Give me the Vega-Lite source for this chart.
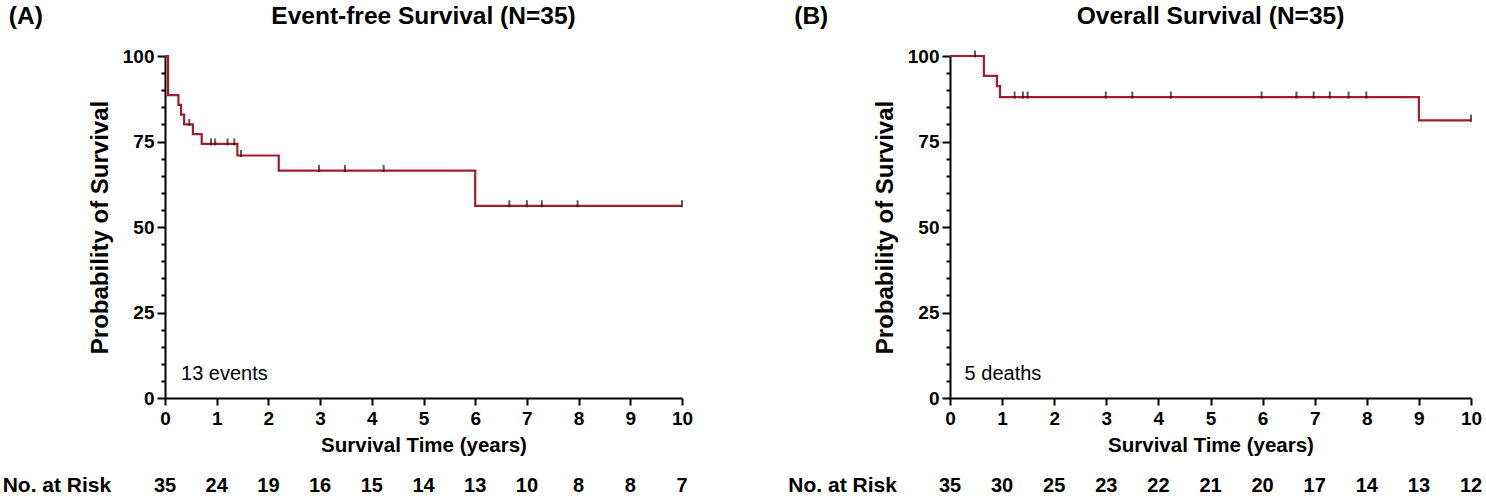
{
  "$schema": "https://vega.github.io/schema/vega-lite/v6.json",
  "padding": {"left": 2, "top": 4, "right": 0, "bottom": 0},
  "background": "white",
  "config": {
    "view": {"stroke": null},
    "font": "Liberation Sans, Arial, sans-serif",
    "axis": {"grid": false, "domainColor": "black", "domainWidth": 2, "tickColor": "black", "tickWidth": 2, "labelColor": "black", "titleColor": "black", "labelFontWeight": "bold", "titleFontWeight": "bold", "labelFlush": false, "labelOverlap": false},
    "text": {"color": "black"}
  },
  "datasets": {
    "efs": [
      {"t": 0, "s": 100}, {"t": 0.06, "s": 88.57}, {"t": 0.26, "s": 85.71}, {"t": 0.31, "s": 82.86},
      {"t": 0.37, "s": 80.0}, {"t": 0.54, "s": 77.14}, {"t": 0.71, "s": 74.29}, {"t": 1.40, "s": 70.9},
      {"t": 2.2, "s": 66.5}, {"t": 6.0, "s": 56.2}, {"t": 10, "s": 56.2}
    ],
    "efs_cens": [
      {"t": 0.47, "s": 80.0}, {"t": 0.89, "s": 74.29}, {"t": 0.97, "s": 74.29}, {"t": 1.21, "s": 74.29},
      {"t": 1.34, "s": 74.29}, {"t": 1.47, "s": 70.9}, {"t": 2.98, "s": 66.5}, {"t": 3.48, "s": 66.5},
      {"t": 4.23, "s": 66.5}, {"t": 6.66, "s": 56.2}, {"t": 7.0, "s": 56.2}, {"t": 7.29, "s": 56.2},
      {"t": 7.98, "s": 56.2}, {"t": 10, "s": 56.2}
    ],
    "os": [
      {"t": 0, "s": 100}, {"t": 0.65, "s": 94.2}, {"t": 0.9, "s": 91.2}, {"t": 0.96, "s": 88.0},
      {"t": 9.0, "s": 81.2}, {"t": 10, "s": 81.2}
    ],
    "os_cens": [
      {"t": 0.48, "s": 100}, {"t": 1.24, "s": 88}, {"t": 1.40, "s": 88}, {"t": 1.49, "s": 88},
      {"t": 2.99, "s": 88}, {"t": 3.5, "s": 88}, {"t": 4.24, "s": 88}, {"t": 5.98, "s": 88},
      {"t": 6.65, "s": 88}, {"t": 6.98, "s": 88}, {"t": 7.29, "s": 88}, {"t": 7.65, "s": 88},
      {"t": 7.99, "s": 88}, {"t": 10, "s": 81.2}
    ],
    "risk_a": [
      {"t": 0, "n": 35}, {"t": 1, "n": 24}, {"t": 2, "n": 19}, {"t": 3, "n": 16}, {"t": 4, "n": 15},
      {"t": 5, "n": 14}, {"t": 6, "n": 13}, {"t": 7, "n": 10}, {"t": 8, "n": 8}, {"t": 9, "n": 8}, {"t": 10, "n": 7}
    ],
    "risk_b": [
      {"t": 0, "n": 35}, {"t": 1, "n": 30}, {"t": 2, "n": 25}, {"t": 3, "n": 23}, {"t": 4, "n": 22},
      {"t": 5, "n": 21}, {"t": 6, "n": 20}, {"t": 7, "n": 17}, {"t": 8, "n": 14}, {"t": 9, "n": 13}, {"t": 10, "n": 12}
    ],
    "lab_a": [{"panel": "(A)", "title": "Event-free Survival (N=35)", "risk": "No. at Risk", "note": "13 events"}],
    "lab_b": [{"panel": "(B)", "title": "Overall Survival (N=35)", "risk": "No. at Risk", "note": "5 deaths"}]
  },
  "spacing": 95,
  "hconcat": [
    {
      "width": 517,
      "height": 342,
      "layer": [
        {
          "data": {"name": "efs"},
          "mark": {"type": "line", "interpolate": "step-after", "color": "#a31d2c", "strokeWidth": 2.2},
          "encoding": {
            "x": {"field": "t", "type": "quantitative", "scale": {"domain": [0, 10], "nice": false, "zero": false},
              "axis": {"values": [0, 1, 2, 3, 4, 5, 6, 7, 8, 9, 10], "format": "d", "labelOverlap": false, "tickSize": 7, "labelPadding": 4, "labelFontSize": 19, "titleFontSize": 20.5, "titlePadding": 7, "title": "Survival Time (years)"}},
            "y": {"field": "s", "type": "quantitative", "scale": {"domain": [0, 100], "nice": false},
              "axis": {"values": [0, 5, 10, 15, 20, 25, 30, 35, 40, 45, 50, 55, 60, 65, 70, 75, 80, 85, 90, 95, 100],
                "tickCount": 30,
                "format": "d",
                "labelOverlap": false,
                "labelExpr": "datum.value % 25 === 0 ? datum.label : ''",
                "tickSize": {"condition": {"test": "datum.value % 25 === 0", "value": 8}, "value": 4},
                "labelPadding": 3, "labelFontSize": 19, "titleFontSize": 24, "titlePadding": 10, "title": "Probability of Survival"}}
          }
        },
        {
          "data": {"name": "efs_cens"},
          "mark": {"type": "tick", "orient": "vertical", "size": 7, "thickness": 2, "color": "#2a0a0a", "yOffset": -2},
          "encoding": {"x": {"field": "t", "type": "quantitative"}, "y": {"field": "s", "type": "quantitative"}}
        },
        {
          "data": {"name": "risk_a"},
          "mark": {"type": "text", "fontSize": 20, "fontWeight": "bold", "baseline": "middle", "align": "center"},
          "encoding": {"x": {"field": "t", "type": "quantitative"}, "y": {"datum": -25.7}, "text": {"field": "n"}}
        },
        {
          "data": {"name": "lab_a"},
          "mark": {"type": "text", "fontSize": 21, "fontWeight": "bold", "baseline": "middle", "align": "right"},
          "encoding": {"x": {"datum": -1.04}, "y": {"datum": -25.7}, "text": {"field": "risk"}}
        },
        {
          "data": {"name": "lab_a"},
          "mark": {"type": "text", "fontSize": 24.5, "fontWeight": "bold", "baseline": "middle", "align": "left"},
          "encoding": {"x": {"datum": -3.02}, "y": {"datum": 111.4}, "text": {"field": "panel"}}
        },
        {
          "data": {"name": "lab_a"},
          "mark": {"type": "text", "fontSize": 24.5, "fontWeight": "bold", "baseline": "middle", "align": "center"},
          "encoding": {"x": {"datum": 5}, "y": {"datum": 111.4}, "text": {"field": "title"}}
        },
        {
          "data": {"name": "lab_a"},
          "mark": {"type": "text", "fontSize": 20, "baseline": "middle", "align": "left"},
          "encoding": {"x": {"datum": 0.31}, "y": {"datum": 7}, "text": {"field": "note"}}
        }
      ]
    },
    {
      "width": 521,
      "height": 342,
      "layer": [
        {
          "data": {"name": "os"},
          "mark": {"type": "line", "interpolate": "step-after", "color": "#a31d2c", "strokeWidth": 2.2},
          "encoding": {
            "x": {"field": "t", "type": "quantitative", "scale": {"domain": [0, 10], "nice": false, "zero": false},
              "axis": {"values": [0, 1, 2, 3, 4, 5, 6, 7, 8, 9, 10], "format": "d", "labelOverlap": false, "tickSize": 7, "labelPadding": 4, "labelFontSize": 19, "titleFontSize": 20.5, "titlePadding": 7, "title": "Survival Time (years)"}},
            "y": {"field": "s", "type": "quantitative", "scale": {"domain": [0, 100], "nice": false},
              "axis": {"values": [0, 5, 10, 15, 20, 25, 30, 35, 40, 45, 50, 55, 60, 65, 70, 75, 80, 85, 90, 95, 100],
                "tickCount": 30,
                "format": "d",
                "labelOverlap": false,
                "labelExpr": "datum.value % 25 === 0 ? datum.label : ''",
                "tickSize": {"condition": {"test": "datum.value % 25 === 0", "value": 8}, "value": 4},
                "labelPadding": 3, "labelFontSize": 19, "titleFontSize": 24, "titlePadding": 10, "title": "Probability of Survival"}}
          }
        },
        {
          "data": {"name": "os_cens"},
          "mark": {"type": "tick", "orient": "vertical", "size": 7, "thickness": 2, "color": "#2a0a0a", "yOffset": -2},
          "encoding": {"x": {"field": "t", "type": "quantitative"}, "y": {"field": "s", "type": "quantitative"}}
        },
        {
          "data": {"name": "risk_b"},
          "mark": {"type": "text", "fontSize": 20, "fontWeight": "bold", "baseline": "middle", "align": "center"},
          "encoding": {"x": {"field": "t", "type": "quantitative"}, "y": {"datum": -25.7}, "text": {"field": "n"}}
        },
        {
          "data": {"name": "lab_b"},
          "mark": {"type": "text", "fontSize": 21, "fontWeight": "bold", "baseline": "middle", "align": "right"},
          "encoding": {"x": {"datum": -1.02}, "y": {"datum": -25.7}, "text": {"field": "risk"}}
        },
        {
          "data": {"name": "lab_b"},
          "mark": {"type": "text", "fontSize": 24.5, "fontWeight": "bold", "baseline": "middle", "align": "left"},
          "encoding": {"x": {"datum": -2.99}, "y": {"datum": 111.4}, "text": {"field": "panel"}}
        },
        {
          "data": {"name": "lab_b"},
          "mark": {"type": "text", "fontSize": 24.5, "fontWeight": "bold", "baseline": "middle", "align": "center"},
          "encoding": {"x": {"datum": 5}, "y": {"datum": 111.4}, "text": {"field": "title"}}
        },
        {
          "data": {"name": "lab_b"},
          "mark": {"type": "text", "fontSize": 20, "baseline": "middle", "align": "left"},
          "encoding": {"x": {"datum": 0.28}, "y": {"datum": 7}, "text": {"field": "note"}}
        }
      ]
    }
  ]
}
